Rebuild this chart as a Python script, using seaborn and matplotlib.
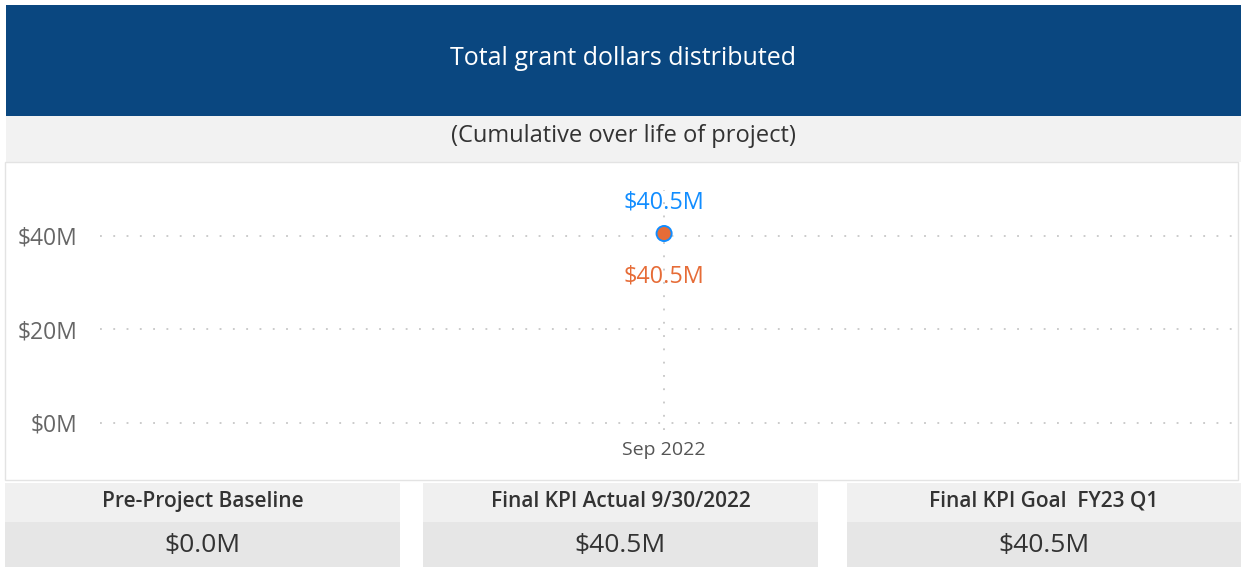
import matplotlib
matplotlib.use("Agg")
import matplotlib.pyplot as plt
from matplotlib.patches import Rectangle
import seaborn as sns
import pandas as pd

# ---- data ----
periods = ["Sep 2022"]
actual_values = [40.5]
goal_values = [40.5]
y_ticks = [0, 20, 40]
y_tick_labels = ["$0M", "$20M", "$40M"]
title = "Total grant dollars distributed"
subtitle = "(Cumulative over life of project)"
card_titles = ["Pre-Project Baseline", "Final KPI Actual 9/30/2022", "Final KPI Goal  FY23 Q1"]
card_values = ["$0.0M", "$40.5M", "$40.5M"]

W, H = 1241, 567
sns.set_theme(style="white")
plt.rcParams["font.family"] = ["Open Sans", "DejaVu Sans"]

fig = plt.figure(figsize=(W / 100, H / 100), dpi=100)
fig.patch.set_facecolor("white")


def box(x0, y0, x1, y1):
    return [x0 / W, 1 - y1 / H, (x1 - x0) / W, (y1 - y0) / H]


def rect(x0, y0, x1, y1, fc, ec="none", lw=0):
    fig.patches.append(Rectangle((x0 / W, 1 - y1 / H), (x1 - x0) / W, (y1 - y0) / H,
                                 transform=fig.transFigure, facecolor=fc, edgecolor=ec,
                                 linewidth=lw, zorder=0))


def ftext(x, y, s, **kw):
    fig.text(x / W, 1 - y / H, s, ha="center", va="center", **kw)


# banner and subtitle band
rect(6, 5, 1241, 116, "#0A4780")
ftext(623, 58.5, title, color="white", fontsize=18)
rect(6, 116, 1241, 162, "#F2F2F2")
ftext(623, 136, subtitle, color="#333333", fontsize=17)
# chart area
rect(5, 162, 1238, 480, "white", ec="#E3E3E3", lw=1)

# cards
cards_x = [(5, 400), (423, 818), (847, 1241)]
for (x0, x1), t, v in zip(cards_x, card_titles, card_values):
    rect(x0, 483, x1, 522, "#F0F0F0")
    rect(x0, 522, x1, 567, "#E6E6E6")
    ftext((x0 + x1) / 2, 501.5, t, color="#333333", fontsize=15, fontweight="semibold")
    ftext((x0 + x1) / 2, 546, v, color="#333333", fontsize=19)

# main plot
ax = fig.add_axes(box(100, 190, 1235, 430))
ax.set_zorder(2)
ax.set_facecolor("none")
df = pd.DataFrame({"period": periods, "actual": actual_values, "goal": goal_values})
sns.scatterplot(data=df, x="period", y="actual", ax=ax, color="#118DFF", s=150,
                edgecolor="none", zorder=3)
sns.scatterplot(data=df, x="period", y="goal", ax=ax, color="#E66C37", s=90,
                edgecolor="none", zorder=4)
ax.set_xlim(-0.497, 0.503)
ax.set_ylim(-1.5, 49.8)
ax.set_yticks(y_ticks)
ax.set_yticklabels(y_tick_labels)
ax.set_xlabel("")
ax.set_ylabel("")
for s in ax.spines.values():
    s.set_visible(False)
ax.tick_params(axis="y", length=0, pad=16, labelsize=16.5, labelcolor="#666666")
ax.tick_params(axis="x", length=0, pad=8, labelsize=14, labelcolor="#555555")
ax.grid(True, axis="both", color="#BDBDBD", linestyle=(0, (1.2, 7.5)), linewidth=1.1)

for i, (a, g) in enumerate(zip(actual_values, goal_values)):
    ax.annotate(f"${a:.1f}M", (i, a), xytext=(0, 22.5), textcoords="offset points",
                ha="center", va="center", color="#118DFF", fontsize=16.8)
    ax.annotate(f"${g:.1f}M", (i, g), xytext=(0, -31), textcoords="offset points",
                ha="center", va="center", color="#E66C37", fontsize=16.8)

fig.savefig("out.png", dpi=100)
